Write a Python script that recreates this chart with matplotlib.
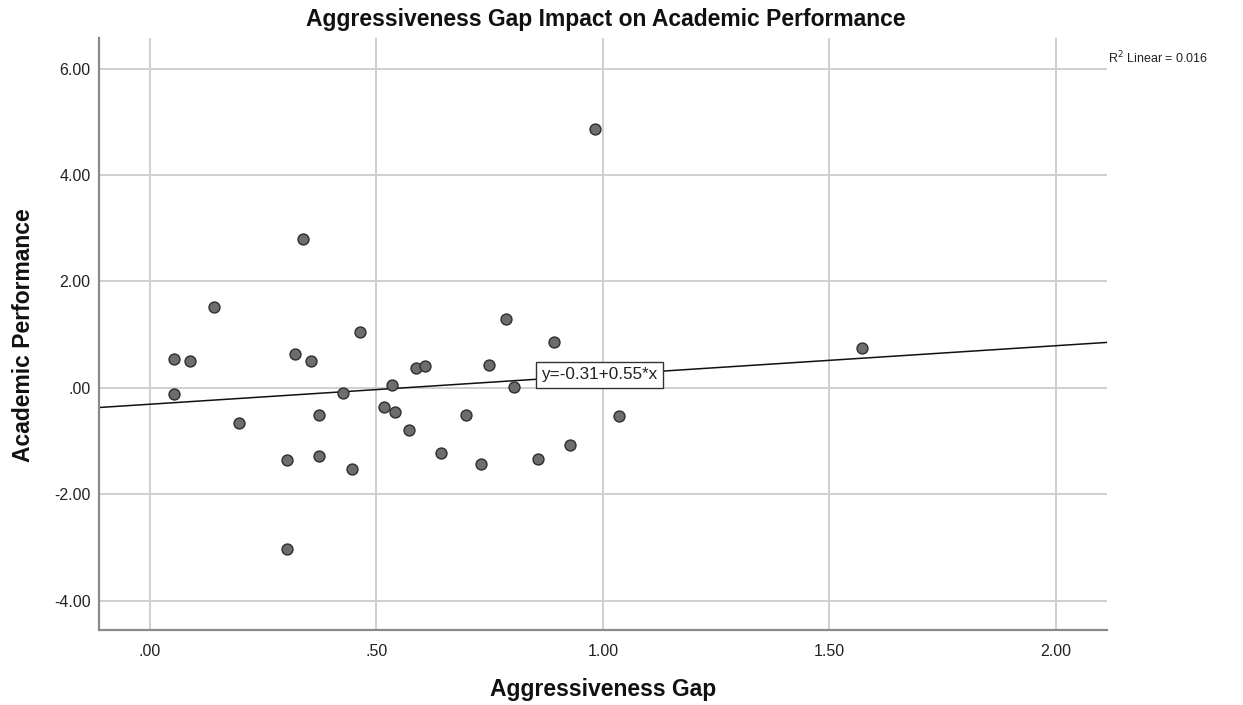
import matplotlib
matplotlib.use("Agg")
import matplotlib.pyplot as plt
import numpy as np

plt.rcParams['font.family'] = ['Liberation Sans', 'DejaVu Sans']

# Aggressiveness gap (x) and academic performance (y) per respondent
gap = [0.142, 0.053, 0.088, 0.053, 0.196, 0.320, 0.355, 0.464, 0.427, 0.373,
       0.303, 0.373, 0.446, 0.303, 0.534, 0.588, 0.608, 0.517, 0.541, 0.571,
       0.785, 0.892, 0.749, 0.803, 0.697, 0.642, 0.731, 0.857, 0.928, 1.035,
       0.982, 0.338, 1.572]
performance = [1.51, 0.54, 0.50, -0.12, -0.67, 0.63, 0.50, 1.04, -0.09, -0.52,
               -1.35, -1.28, -1.53, -3.04, 0.06, 0.38, 0.41, -0.37, -0.46, -0.80,
               1.30, 0.86, 0.42, 0.01, -0.52, -1.23, -1.43, -1.34, -1.08, -0.54,
               4.86, 2.80, 0.75]

# Linear fit shown on the chart
intercept = -0.31
slope = 0.55
r_squared = 0.016

x_ticks = [0.0, 0.5, 1.0, 1.5, 2.0]
x_tick_labels = [".00", ".50", "1.00", "1.50", "2.00"]
y_ticks = [-4.0, -2.0, 0.0, 2.0, 4.0, 6.0]
y_tick_labels = ["-4.00", "-2.00", ".00", "2.00", "4.00", "6.00"]

fig = plt.figure(figsize=(12.43, 7.05), dpi=100)
ax = fig.add_axes([0.0796, 0.1064, 0.8107, 0.8396])

xlim = (-0.1126, 2.112)
ylim = (-4.554, 6.573)
ax.set_xlim(*xlim)
ax.set_ylim(*ylim)

ax.set_xticks(x_ticks)
ax.set_xticklabels(x_tick_labels)
ax.set_yticks(y_ticks)
ax.set_yticklabels(y_tick_labels)
ax.tick_params(axis='both', length=0, labelsize=11.5, colors='#222222')
ax.tick_params(axis='x', pad=10)
ax.tick_params(axis='y', pad=6)

ax.grid(True, color='#cfcfcf', linewidth=1.4, zorder=0)
for side in ('top', 'right'):
    ax.spines[side].set_visible(False)
for side in ('left', 'bottom'):
    ax.spines[side].set_color('#8a8a8a')
    ax.spines[side].set_linewidth(1.6)

# Regression line across the full x range
xs = np.array(xlim)
ax.plot(xs, intercept + slope * xs, color='#111111', linewidth=1.1, zorder=2)

ax.scatter(gap, performance, s=62, facecolor='#6d6d6d', edgecolor='#2e2e2e',
           linewidth=1.0, zorder=3)

ax.text(0.992, 0.24, f"y={intercept:.2f}+{slope:.2f}*x", fontsize=12.3,
        ha='center', va='center', color='#222222', zorder=4,
        bbox=dict(boxstyle='square,pad=0.3', facecolor='white',
                  edgecolor='#333333', linewidth=1.0))

fig.text(0.891, 0.918, f"R$^2$ Linear = {r_squared:.3f}", fontsize=9,
         ha='left', va='center', color='#222222')

fig.text(0.487, 0.973, "Aggressiveness Gap Impact on Academic Performance",
         fontsize=16.5, fontweight='bold', ha='center', va='center',
         color='#111111')
fig.text(0.485, 0.022, "Aggressiveness Gap", fontsize=16.5, fontweight='bold',
         ha='center', va='center', color='#111111')
fig.text(0.019, 0.525, "Academic Performance", fontsize=16.5, fontweight='bold',
         ha='center', va='center', rotation=90, color='#111111')

fig.savefig("out.png", dpi=100, facecolor='white')
